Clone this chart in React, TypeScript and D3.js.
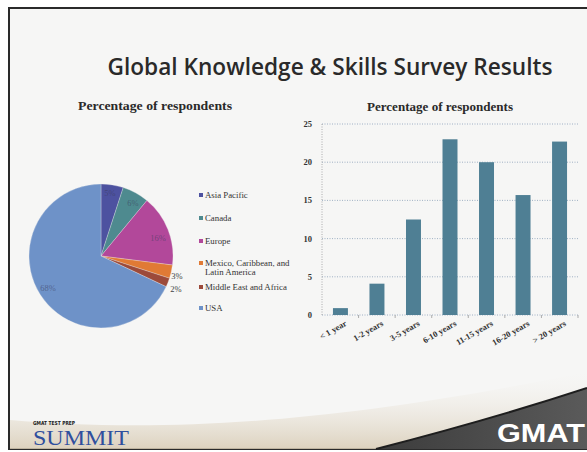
import React from "react";
import * as d3 from "d3";

const regions = ["Asia Pacific", "Canada", "Europe", "Mexico, Caribbean, and Latin America", "Middle East and Africa", "USA"];
const regionShares = [5, 6, 16, 3, 2, 68];
const regionColors = ["#4d52a0", "#4e8a8f", "#b2489a", "#e07a35", "#9c4a3a", "#6e92c8"];

const experience = ["< 1 year", "1-2 years", "3-5 years", "6-10 years", "11-15 years", "16-20 years", "> 20 years"];
const experienceValues = [0.9, 4.1, 12.5, 23.0, 20.0, 15.7, 22.7];
const yTicks = [0, 5, 10, 15, 20, 25];

const serif = "'Liberation Serif', 'DejaVu Serif', serif";

export default function App() {
  const W = 587, H = 452;

  // Pie
  const cx = 101, cy = 256, r = 72;
  const pie = d3.pie<number>().sort(null).value((d) => d)(regionShares);
  const arc = d3.arc<d3.PieArcDatum<number>>().innerRadius(0).outerRadius(r);
  const labelPos = [
    [110, 196], [133, 206], [158, 241], [177, 279], [176, 292], [48, 291],
  ];

  // Bar
  const x = d3.scaleBand<string>().domain(experience).range([322, 578]).paddingInner(0.59).paddingOuter(0.3);
  const y = d3.scaleLinear().domain([0, 25]).range([315, 124]);
  const xb = d3.scaleBand<string>().domain(experience).range([322, 578]);

  const legendY = [198, 221, 244, 266, 290, 311];

  return (
    <svg width={W} height={H} style={{ position: "absolute", left: 0, top: 0 }}>
      <defs>
        <linearGradient id="beige" x1="0" y1="0" x2="0" y2="1">
          <stop offset="0" stopColor="#f3f1ec" stopOpacity="0" />
          <stop offset="1" stopColor="#d8cbb4" stopOpacity="0.85" />
        </linearGradient>
        <linearGradient id="dark" x1="0" y1="0" x2="1" y2="0">
          <stop offset="0" stopColor="#3c3c3c" />
          <stop offset="1" stopColor="#5a5a5a" />
        </linearGradient>
      </defs>
      <rect x={0} y={0} width={W} height={H} fill="#ffffff" />
      <rect x={9} y={8} width={600} height={441} fill="#f6f6f5" stroke="#2a2a2a" strokeWidth={2} />
      {/* bottom decorations */}
      <path d="M10,420 C150,432 320,427 587,372 L587,449 L10,449 Z" fill="url(#beige)" />
      <path d="M376,449 C450,430 520,410 587,388 L587,449 Z" fill="url(#dark)" />
      <path d="M376,449 C450,430 520,410 587,388" fill="none" stroke="#1e1e1e" strokeWidth={2} />
      <text x={497} y={442} fill="#ffffff" fontFamily="'Liberation Sans', Arial, sans-serif" fontWeight="bold" fontSize={26} textLength={88} lengthAdjust="spacingAndGlyphs">GMAT</text>
      <text x={33} y={425} fill="#1a1a1a" fontFamily="'DejaVu Sans', sans-serif" fontWeight="bold" fontSize={5.5} textLength={42} lengthAdjust="spacingAndGlyphs">GMAT TEST PREP</text>
      <text x={33} y={445} fill="#2f4f9e" fontFamily={serif} fontSize={22} textLength={96} lengthAdjust="spacingAndGlyphs">SUMMIT</text>

      {/* title */}
      <text x={330} y={75} textAnchor="middle" fill="#2a2a2a" fontFamily="'Open Sans', 'Noto Sans', sans-serif" fontWeight={600} fontSize={23} textLength={445} lengthAdjust="spacingAndGlyphs">Global Knowledge &amp; Skills Survey Results</text>

      {/* pie */}
      <text x={155} y={110} textAnchor="middle" fill="#2a2a2a" fontFamily={serif} fontWeight="bold" fontSize={13} textLength={154} lengthAdjust="spacingAndGlyphs">Percentage of respondents</text>
      <g transform={`translate(${cx},${cy})`}>
        {pie.map((p, i) => (
          <path key={i} d={arc(p) || ""} fill={regionColors[i]} stroke="#eeeeee" strokeWidth={0.3} />
        ))}
      </g>
      {regionShares.map((v, i) => (
        <text key={i} x={labelPos[i][0]} y={labelPos[i][1]} textAnchor="middle" fill={i >= 3 && i <= 4 ? "#444" : "#3a3a5a"} fillOpacity={i >= 3 && i <= 4 ? 1 : 0.55} fontFamily={serif} fontSize={8.5}>{v}%</text>
      ))}
      {regions.map((name, i) => {
        const lines = i === 3 ? ["Mexico, Caribbean, and", "Latin America"] : [name];
        return (
          <g key={i}>
            <rect x={199} y={legendY[i] - 5} width={4} height={4} fill={regionColors[i]} />
            {lines.map((l, j) => (
              <text key={j} x={205} y={legendY[i] + j * 9} fill="#333" fontFamily={serif} fontSize={8.8}>{l}</text>
            ))}
          </g>
        );
      })}

      {/* bar chart */}
      <text x={440} y={111} textAnchor="middle" fill="#2a2a2a" fontFamily={serif} fontWeight="bold" fontSize={12.5} textLength={146} lengthAdjust="spacingAndGlyphs">Percentage of respondents</text>
      {yTicks.map((t) => (
        <g key={t}>
          <line x1={322} x2={578} y1={y(t)} y2={y(t)} stroke="#8aa0b8" strokeWidth={0.8} strokeDasharray="1,1.5" />
          <text x={312} y={y(t) + 3} textAnchor="end" fill="#333" fontFamily={serif} fontWeight="bold" fontSize={8.5}>{t}</text>
        </g>
      ))}
      <line x1={322} x2={322} y1={y(25)} y2={y(0)} stroke="#999" strokeWidth={0.8} strokeDasharray="1,1.5" />
      {experience.map((c) => (
        <line key={c} x1={(xb(c) || 0) + xb.bandwidth()} x2={(xb(c) || 0) + xb.bandwidth()} y1={y(0)} y2={y(0) + 3} stroke="#999" strokeWidth={0.8} />
      ))}
      {experience.map((c, i) => (
        <rect key={c} x={x(c)} y={y(experienceValues[i])} width={x.bandwidth()} height={y(0) - y(experienceValues[i])} fill="#4f7f94" />
      ))}
      {experience.map((c) => {
        const px = (xb(c) || 0) + xb.bandwidth() / 2 + 7;
        const py = 325;
        return (
          <text key={c} transform={`translate(${px},${py}) rotate(-30)`} textAnchor="end" fill="#333" fontFamily={serif} fontWeight="bold" fontSize={8.5}>{c}</text>
        );
      })}
    </svg>
  );
}
